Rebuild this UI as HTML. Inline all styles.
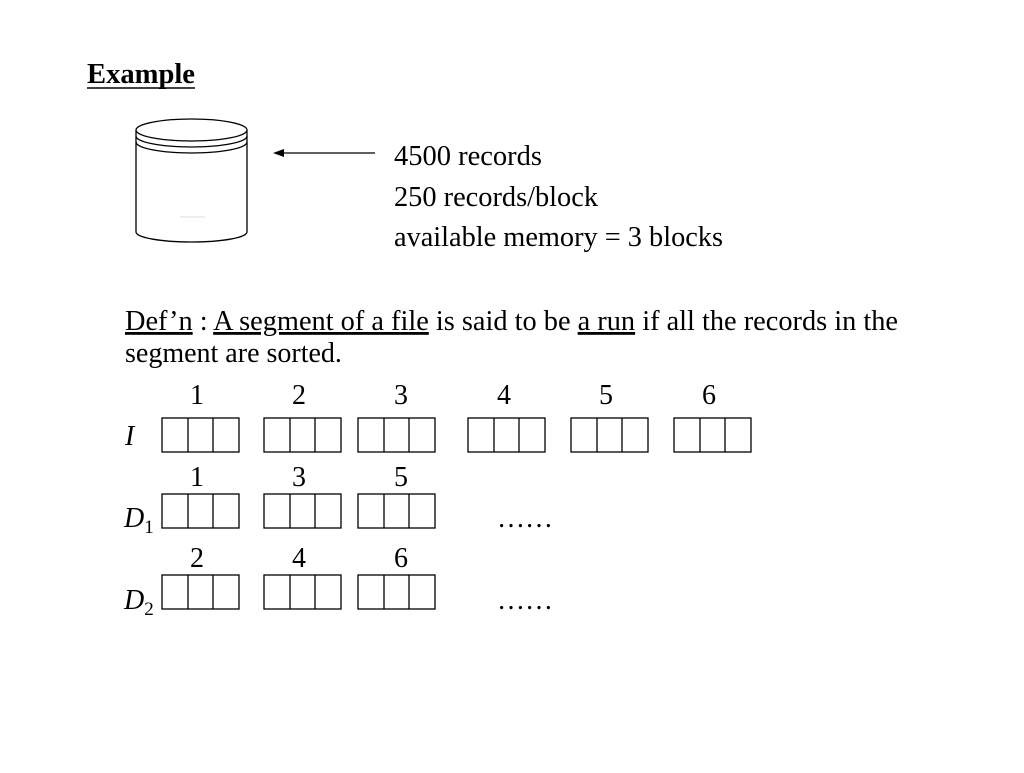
<!DOCTYPE html>
<html><head><meta charset="utf-8"><style>
body{margin:0;background:#fff;}
svg text{font-family:"Liberation Serif","Times New Roman",serif;font-size:28px;fill:#000;}
</style></head><body>
<svg width="1024" height="768" viewBox="0 0 1024 768" xmlns="http://www.w3.org/2000/svg">
<rect width="1024" height="768" fill="#fff"/>
<text x="87" y="83" font-weight="bold" textLength="108" lengthAdjust="spacingAndGlyphs">Example</text>
<line x1="87" y1="88" x2="195" y2="88" stroke="#000" stroke-width="1.5"/>
<g fill="none" stroke="#000" stroke-width="1.3">
<path d="M136 130 L136 232 A55.5 10 0 0 0 247 232 L247 130"/>
<ellipse cx="191.5" cy="130" rx="55.5" ry="11" fill="#fff"/>
<path d="M136 136 A55.5 11 0 0 0 247 136"/>
<path d="M136 142 A55.5 11 0 0 0 247 142"/>
<line x1="375" y1="153" x2="282" y2="153"/>
</g>
<line x1="180" y1="217" x2="205" y2="217" stroke="#ddd" stroke-width="1"/>
<polygon points="273,153 284,149 284,157" fill="#000"/>
<text x="394" y="165" textLength="148" lengthAdjust="spacingAndGlyphs">4500 records</text>
<text x="394" y="206" textLength="204" lengthAdjust="spacingAndGlyphs">250 records/block</text>
<text x="394" y="246" textLength="329" lengthAdjust="spacingAndGlyphs">available memory = 3 blocks</text>
<text x="125" y="330" textLength="773" lengthAdjust="spacingAndGlyphs"><tspan text-decoration="underline">Def’n</tspan> : <tspan text-decoration="underline">A segment of a file</tspan> is said to be <tspan text-decoration="underline">a run</tspan> if all the records in the</text>
<text x="125" y="362">segment are sorted.</text>
<g text-anchor="middle">
<text x="197" y="404">1</text><text x="299" y="404">2</text><text x="401" y="404">3</text>
<text x="504" y="404">4</text><text x="606" y="404">5</text><text x="709" y="404">6</text>
<text x="197" y="486">1</text><text x="299" y="486">3</text><text x="401" y="486">5</text>
<text x="197" y="567">2</text><text x="299" y="567">4</text><text x="401" y="567">6</text>
</g>
<text x="125" y="445" font-style="italic">I</text>
<text x="124" y="527" font-style="italic">D<tspan font-style="normal" font-size="19" dy="6">1</tspan></text>
<text x="124" y="609" font-style="italic">D<tspan font-style="normal" font-size="19" dy="6">2</tspan></text>
<text x="497" y="527" textLength="56" lengthAdjust="spacingAndGlyphs">……</text>
<text x="497" y="609" textLength="56" lengthAdjust="spacingAndGlyphs">……</text>
<g fill="none" stroke="#000" stroke-width="1.3">
<g id="b1"><rect x="162" y="418" width="77" height="34"/><line x1="188" y1="418" x2="188" y2="452"/><line x1="213" y1="418" x2="213" y2="452"/></g>
<use href="#b1" x="102"/><use href="#b1" x="196"/><use href="#b1" x="306"/><use href="#b1" x="409"/><use href="#b1" x="512"/>
<use href="#b1" y="76"/><use href="#b1" x="102" y="76"/><use href="#b1" x="196" y="76"/>
<use href="#b1" y="157"/><use href="#b1" x="102" y="157"/><use href="#b1" x="196" y="157"/>
</g>
</svg>
</body></html>
